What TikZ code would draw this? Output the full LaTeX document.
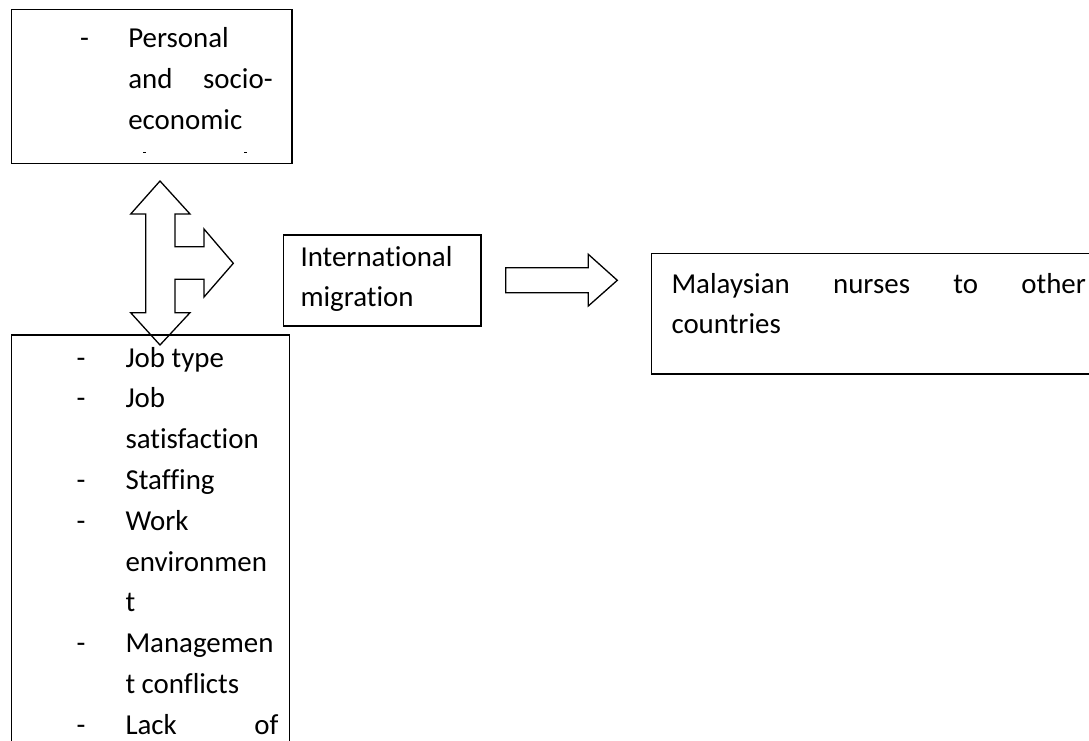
\documentclass[tikz,border=0pt]{standalone}
\usepackage{fontspec}
\setmainfont{Carlito}[Ligatures={NoCommon,NoDiscretionary,NoContextual}]
\begin{document}
\begin{tikzpicture}[x=1pt,y=-1pt,
  boxline/.style={draw=black,line width=1.3pt},
  blockarrow/.style={draw=black,line width=1.3pt,line join=miter},
  txt/.style={anchor=base west,inner sep=0pt,outer sep=0pt,font=\fontsize{28.9}{40.8}\selectfont},
  txtr/.style={anchor=base east,inner sep=0pt,outer sep=0pt,font=\fontsize{28.9}{40.8}\selectfont}]
\useasboundingbox (0,0) rectangle (1089,740);
\begin{scope}
\clip (0,0) rectangle (1089,740);
% boxes
\draw[boxline] (11.7,9.3) rectangle (292,163.3);
\draw[boxline] (11.7,760) -- (11.7,335) -- (289.3,335) -- (289.3,760);
\draw[boxline] (283.3,235) rectangle (481,326);
\draw[boxline] (1100,253.3) -- (651.7,253.3) -- (651.7,374) -- (1100,374);
% block arrows
\draw[blockarrow] (160,181) -- (190,214) -- (175,214) -- (175,246.7) -- (204,246.7) -- (204,229)
  -- (233.3,263.3) -- (204,297) -- (204,279.3) -- (175,279.3) -- (175,312.7) -- (190,312.7)
  -- (160,345) -- (130.7,312.7) -- (145.7,312.7) -- (145.7,214) -- (130.7,214) -- cycle;
\draw[blockarrow] (505.7,267.7) -- (588.3,267.7) -- (588.3,254.3) -- (617.3,280.3)
  -- (588.3,306) -- (588.3,292.7) -- (505.7,292.7) -- cycle;
% top box text
\node[txt] (d1) at (80,47.5) {-};
\node[txt] (t1) at (128.3,47.5) {Personal};
\node[txt] (t2) at (128.3,88.3) {\hbox to 144.4pt{and\hfill socio-}};
\node[txt] (t3) at (128.3,129.1) {economic};
\fill (142.5,151.5) rectangle (145.5,153.2);
\fill (243.5,151.5) rectangle (246.5,153.2);
% middle box text
\node[txt] (m1) at (300.5,266) {International};
\node[txt] (m2) at (300.5,306) {migration};
% right box text
\node[txt] (r1) at (671.5,293.3) {\hbox to 414.5pt{Malaysian\hfill nurses\hfill to\hfill other}};
\node[txt] (r2) at (671.5,333.5) {countries};
% bottom box text
\node[txt] (b0d) at (76.5,367) {-};
\node[txt] (b0) at (125.5,367) {Job type};
\node[txt] (b1d) at (76.5,407.8) {-};
\node[txt] (b1) at (125.5,407.8) {Job};
\node[txt] (b2) at (125.5,448.6) {satisfaction};
\node[txt] (b3d) at (76.5,489.4) {-};
\node[txt] (b3) at (125.5,489.4) {Staffing};
\node[txt] (b4d) at (76.5,530.2) {-};
\node[txt] (b4) at (125.5,530.2) {Work};
\node[txt] (b5) at (125.5,571) {environmen};
\node[txt] (b6) at (125.5,611.8) {t};
\node[txt] (b7d) at (76.5,652.6) {-};
\node[txt] (b7) at (125.5,652.6) {Managemen};
\node[txt] (b8) at (125.5,693.4) {t conflicts};
\node[txt] (b9d) at (76.5,734.2) {-};
\node[txt] (b9) at (125.5,734.2) {\hbox to 153pt{Lack\hfill of}};
\end{scope}
\end{tikzpicture}
\end{document}
